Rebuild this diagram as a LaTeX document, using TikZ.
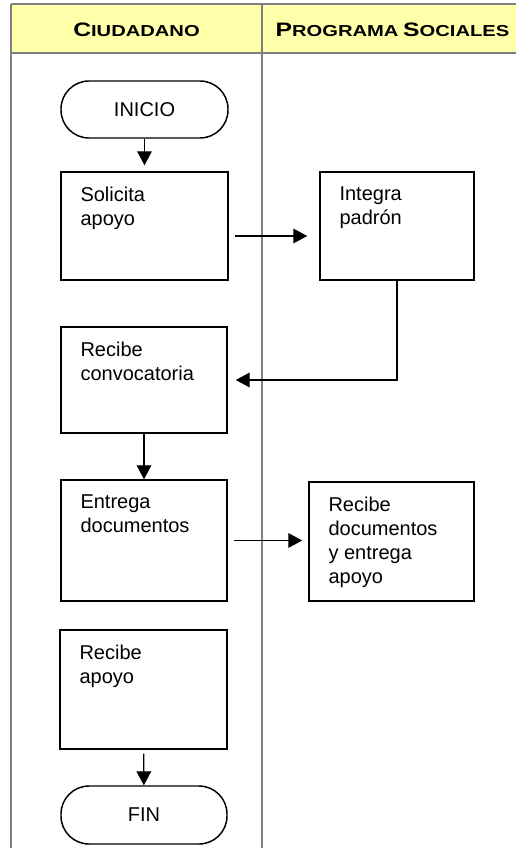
\documentclass[tikz,border=0pt]{standalone}
\usepackage{fontspec}
\usepackage{graphicx}
\setmainfont{Liberation Sans}
\usetikzlibrary{arrows.meta,positioning}

\definecolor{headfill}{RGB}{255,255,170}
\definecolor{lanegray}{RGB}{128,128,128}

%% fake small caps of the lane titles
\newcommand{\headcap}[2]{{\fontsize{14.6}{16}\selectfont #1}{\fontsize{11.9}{14}\selectfont #2}}

\tikzset{
  lane/.style={draw=lanegray, line width=1.5pt},
  head/.style={inner sep=0pt, font=\bfseries},
  txt/.style={anchor=north west, align=left, inner sep=0pt, xshift=15pt, yshift=-11.25pt,
    font=\fontsize{15}{18}\selectfont},
  procbox/.style={draw, line width=1.1pt, rectangle, inner sep=0pt},
  termbox/.style={draw, line width=1.1pt, rectangle, rounded corners=21pt, inner sep=0pt,
    font=\fontsize{15}{18}\selectfont},
  arr/.style={line width=1pt, -{Triangle[length=10.5pt,width=11pt]}}
}

\begin{document}
\begin{tikzpicture}[x=0.75pt, y=-0.75pt]

\useasboundingbox (0,0) rectangle (516,848);

%% swimlanes
\begin{scope}
  \clip (0,0) rectangle (516,848);
  \fill[headfill] (11,4.5) rectangle (523,53.5);
  \draw[lane] (11,4.5) -- (530,4.5);
  \draw[lane] (11,53.5) -- (530,53.5);
  \draw[lane] (11,4.5) -- (11,860);
  \draw[lane] (262,4.5) -- (262,860);
  \draw[lane] (523,4.5) -- (523,860);
\end{scope}

\node[head] (hciu) at (136.5,29.7) {\scalebox{1.27}[1]{\headcap{C}{IUDADANO}}};
\node[head] (hprog) at (392.5,29.7) {\scalebox{1.27}[1]{\headcap{P}{ROGRAMA} \headcap{S}{OCIALES}}};

%% ciudadano
\node[termbox, minimum width=125.25pt, minimum height=42.75pt] (ini) at (144.5,109.5) {INICIO};
\node[procbox, minimum width=125.25pt, minimum height=81pt,
  label={[txt]north west:Solicita\\apoyo}] (sol) at (144.5,226) {};
\node[procbox, minimum width=124.5pt, minimum height=79.5pt,
  label={[txt]north west:Recibe\\convocatoria}] (conv) at (144,380) {};
\node[procbox, minimum width=124.5pt, minimum height=90.75pt,
  label={[txt]north west:Entrega\\documentos}] (ent) at (144,540.5) {};
\node[procbox, minimum width=125.25pt, minimum height=89.25pt,
  label={[txt]north west:Recibe\\apoyo}] (rapo) at (143.5,689.5) {};
\node[termbox, minimum width=124.5pt, minimum height=43.5pt] (fin) at (144,815) {FIN};

%% programa sociales
\node[procbox, minimum width=115.5pt, minimum height=81pt,
  label={[txt]north west:Integra\\padrón}] (int) at (397,226) {};
\node[procbox, minimum width=123.75pt, minimum height=89.25pt,
  label={[txt]north west:Recibe\\documentos\\y entrega\\apoyo}] (rdoc) at (391.5,541.5) {};

%% arrows
\draw[arr, shorten >=4.5pt] (ini) -- (sol);
\draw[arr, shorten <=4.5pt, shorten >=9pt] ([yshift=-7.5pt]sol.east) -- ([yshift=-7.5pt]int.west);
\draw[arr, shorten >=6pt] (int.south) |- (conv.east);
\draw[arr] (conv) -- (ent);
\draw[arr, shorten <=5pt, shorten >=4.5pt] (ent.east) -- (ent.east -| rdoc.west);
\draw[arr, shorten <=3pt] (rapo) -- (fin);

\end{tikzpicture}
\end{document}
